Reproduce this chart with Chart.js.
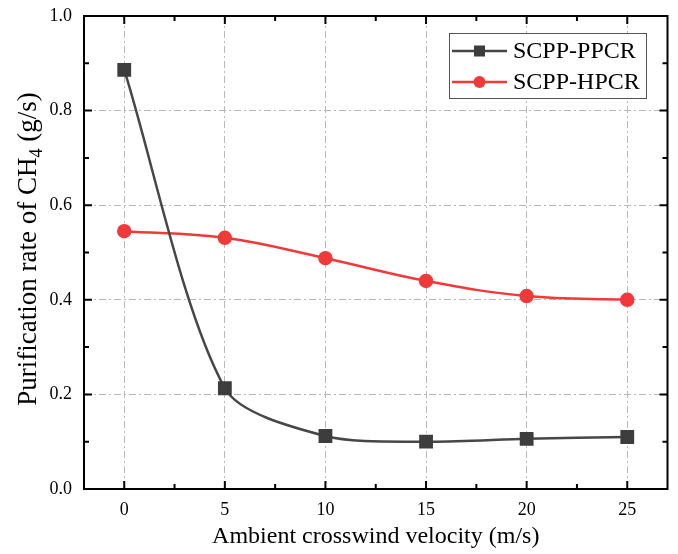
<!DOCTYPE html>
<html>
<head>
<meta charset="utf-8">
<script src="https://cdn.jsdelivr.net/npm/chart.js@4/dist/chart.umd.min.js"></script>
<style>
  html, body { margin: 0; padding: 0; background: #fff; }
  #wrap { width: 678px; height: 554px; }
</style>
</head>
<body>
<div id="wrap"><canvas id="c" width="678" height="554"></canvas></div>
<script>
// Crosswind velocity (m/s)
const velocities = [0, 5, 10, 15, 20, 25];
// CH4 purification rate (g/s)
const ppcrRates = [0.886, 0.213, 0.112, 0.100, 0.106, 0.110];
const hpcrRates = [0.545, 0.531, 0.488, 0.440, 0.408, 0.400];
const seriesNames = ['SCPP-PPCR', 'SCPP-HPCR'];
const xTicks = [0, 5, 10, 15, 20, 25];
const xMinorTicks = [2.5, 7.5, 12.5, 17.5, 22.5];
const yTicks = [0, 0.2, 0.4, 0.6, 0.8, 1.0];
const yMinorTicks = [0.1, 0.3, 0.5, 0.7, 0.9];

const SERIF = '"Liberation Serif", "Times New Roman", serif';
const GRAY = '#474747';
const RED = '#f03a3a';

const toPoints = ys => velocities.map((x, i) => ({ x, y: ys[i] }));

// Frame, inward ticks, axis titles and legend box
const framePlugin = {
  id: 'frame',
  afterDraw(chart) {
    const { ctx, chartArea: a, scales: { x, y } } = chart;
    ctx.save();
    ctx.strokeStyle = '#000';
    ctx.lineWidth = 2;
    ctx.setLineDash([]);
    ctx.strokeRect(a.left, a.top, a.right - a.left, a.bottom - a.top);

    const tick = (px, len, vertical) => {
      ctx.beginPath();
      if (vertical) {
        ctx.moveTo(px, a.bottom); ctx.lineTo(px, a.bottom - len);
        ctx.moveTo(px, a.top); ctx.lineTo(px, a.top + len);
      } else {
        ctx.moveTo(a.left, px); ctx.lineTo(a.left + len, px);
        ctx.moveTo(a.right, px); ctx.lineTo(a.right - len, px);
      }
      ctx.stroke();
    };
    xTicks.forEach(v => tick(x.getPixelForValue(v), 8, true));
    xMinorTicks.forEach(v => tick(x.getPixelForValue(v), 5, true));
    yTicks.forEach(v => tick(y.getPixelForValue(v), 8, false));
    yMinorTicks.forEach(v => tick(y.getPixelForValue(v), 5, false));

    // axis titles
    ctx.fillStyle = '#000';
    ctx.font = '24px ' + SERIF;
    ctx.textAlign = 'center';
    ctx.textBaseline = 'alphabetic';
    ctx.fillText('Ambient crosswind velocity (m/s)', (a.left + a.right) / 2, 543);

    ctx.save();
    ctx.translate(29, 249);
    ctx.rotate(-Math.PI / 2);
    const big = '27px ' + SERIF, small = '18px ' + SERIF;
    const p1 = 'Purification rate of CH', p2 = '4', p3 = ' (g/s)';
    ctx.font = big; const w1 = ctx.measureText(p1).width, w3 = ctx.measureText(p3).width;
    ctx.font = small; const w2 = ctx.measureText(p2).width;
    let sx = -(w1 + w2 + w3) / 2;
    ctx.textAlign = 'left';
    ctx.textBaseline = 'middle';
    ctx.font = big; ctx.fillText(p1, sx, 0); sx += w1;
    ctx.font = small; ctx.fillText(p2, sx, 8); sx += w2;
    ctx.font = big; ctx.fillText(p3, sx, 0);
    ctx.restore();

    // legend
    const lx = 449, ly = 33, lw = 197, lh = 65;
    ctx.fillStyle = '#fff';
    ctx.fillRect(lx, ly, lw, lh);
    ctx.strokeStyle = '#555';
    ctx.lineWidth = 1;
    ctx.strokeRect(lx + 0.5, ly + 0.5, lw, lh);
    chart.data.datasets.forEach((ds, i) => {
      const cy = ly + 18 + i * 31;
      ctx.strokeStyle = ds.borderColor;
      ctx.lineWidth = 2.5;
      ctx.beginPath(); ctx.moveTo(lx + 3, cy); ctx.lineTo(lx + 58, cy); ctx.stroke();
      ctx.fillStyle = ds.pointBackgroundColor;
      if (ds.pointStyle === 'rect') {
        ctx.fillRect(lx + 30.5 - 5.5, cy - 5.5, 11, 11);
      } else {
        ctx.beginPath(); ctx.arc(lx + 30.5, cy, 6, 0, Math.PI * 2); ctx.fill();
      }
      ctx.fillStyle = '#000';
      ctx.font = '24px ' + SERIF;
      ctx.textAlign = 'left';
      ctx.textBaseline = 'middle';
      ctx.fillText(ds.label, lx + 64, cy + 1);
    });
    ctx.restore();
  }
};

new Chart(document.getElementById('c'), {
  type: 'line',
  data: {
    datasets: [
      {
        label: seriesNames[0],
        data: toPoints(ppcrRates),
        borderColor: GRAY,
        backgroundColor: GRAY,
        pointBackgroundColor: '#3d3d3d',
        pointBorderColor: '#3d3d3d',
        pointStyle: 'rect',
        pointRadius: 8,
        borderWidth: 2.5,
        tension: 0.28
      },
      {
        label: seriesNames[1],
        data: toPoints(hpcrRates),
        borderColor: RED,
        backgroundColor: RED,
        pointBackgroundColor: RED,
        pointBorderColor: RED,
        pointStyle: 'circle',
        pointRadius: 6,
        borderWidth: 2.5,
        tension: 0.4
      }
    ]
  },
  options: {
    responsive: false,
    animation: false,
    layout: { padding: { left: 0, top: 16, right: 7, bottom: 0 } },
    plugins: { legend: { display: false }, tooltip: { enabled: false } },
    scales: {
      x: {
        type: 'linear',
        min: -2,
        max: 27,
        afterBuildTicks: s => { s.ticks = xTicks.map(v => ({ value: v })); },
        afterFit: s => { s.height = 65; s.paddingLeft = 0; s.paddingRight = 0; },
        grid: { color: '#b8b8b8', lineWidth: 1, drawTicks: false },
        border: { display: false, dash: [7, 3, 2, 3] },
        ticks: { color: '#000', padding: 10, font: { family: SERIF, size: 18 } }
      },
      y: {
        min: 0,
        max: 1,
        afterBuildTicks: s => { s.ticks = yTicks.map(v => ({ value: v })); },
        afterFit: s => { s.width = 84; s.paddingTop = 0; s.paddingBottom = 0; },
        grid: { color: '#b8b8b8', lineWidth: 1, drawTicks: false },
        border: { display: false, dash: [7, 3, 2, 3] },
        ticks: { color: '#000', padding: 12, font: { family: SERIF, size: 18 }, callback: v => v.toFixed(1) }
      }
    }
  },
  plugins: [framePlugin]
});
</script>
</body>
</html>
